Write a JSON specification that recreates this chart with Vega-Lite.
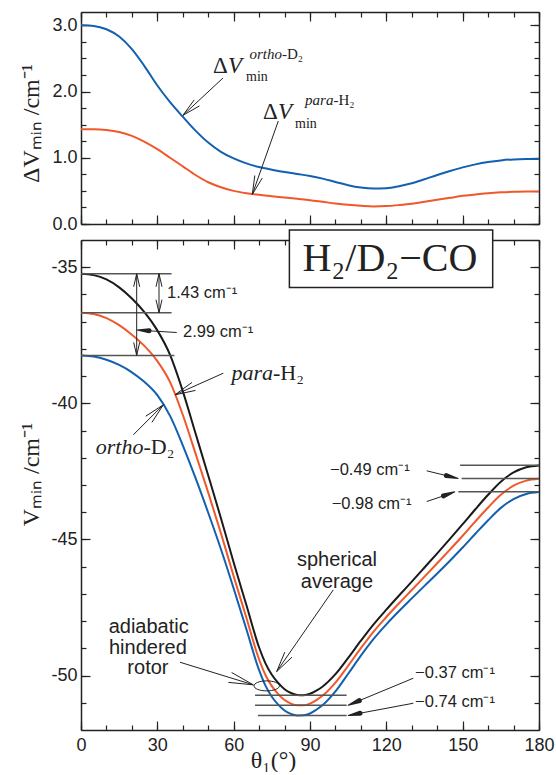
{
  "$schema": "https://vega.github.io/schema/vega-lite/v6.json",
  "background": "white",
  "padding": {"left": 19, "top": 11, "right": 5, "bottom": 0},
  "spacing": 16,
  "bounds": "flush",
  "config": {
    "view": {"stroke": null},
    "axis": {
      "grid": false, "domainColor": "#222", "domainWidth": 1.5, "tickColor": "#222", "tickWidth": 1.2,
      "labelFont": "Liberation Sans", "labelFontSize": 18, "labelColor": "#222", "labelFlush": false,
      "titleFont": "Liberation Serif", "titleFontSize": 24, "titleFontWeight": "normal", "titleColor": "#222"
    }
  },
  "datasets": {
    "dv": [
      {"x":0,"y":3.00,"s":"ortho"},{"x":5,"y":2.99,"s":"ortho"},{"x":10,"y":2.94,"s":"ortho"},{"x":15,"y":2.83,"s":"ortho"},{"x":20,"y":2.64,"s":"ortho"},{"x":25,"y":2.38,"s":"ortho"},{"x":30,"y":2.09,"s":"ortho"},{"x":35,"y":1.84,"s":"ortho"},{"x":40,"y":1.62,"s":"ortho"},{"x":45,"y":1.41,"s":"ortho"},{"x":50,"y":1.23,"s":"ortho"},{"x":55,"y":1.09,"s":"ortho"},{"x":60,"y":0.99,"s":"ortho"},{"x":65,"y":0.915,"s":"ortho"},{"x":70,"y":0.86,"s":"ortho"},{"x":75,"y":0.82,"s":"ortho"},{"x":80,"y":0.785,"s":"ortho"},{"x":85,"y":0.755,"s":"ortho"},{"x":90,"y":0.725,"s":"ortho"},{"x":95,"y":0.685,"s":"ortho"},{"x":100,"y":0.635,"s":"ortho"},{"x":105,"y":0.585,"s":"ortho"},{"x":110,"y":0.55,"s":"ortho"},{"x":115,"y":0.535,"s":"ortho"},{"x":120,"y":0.54,"s":"ortho"},{"x":125,"y":0.57,"s":"ortho"},{"x":130,"y":0.615,"s":"ortho"},{"x":135,"y":0.675,"s":"ortho"},{"x":140,"y":0.74,"s":"ortho"},{"x":145,"y":0.80,"s":"ortho"},{"x":150,"y":0.855,"s":"ortho"},{"x":155,"y":0.90,"s":"ortho"},{"x":160,"y":0.935,"s":"ortho"},{"x":165,"y":0.96,"s":"ortho"},{"x":170,"y":0.975,"s":"ortho"},{"x":175,"y":0.98,"s":"ortho"},{"x":180,"y":0.98,"s":"ortho"},
      {"x":0,"y":1.43,"s":"para"},{"x":5,"y":1.43,"s":"para"},{"x":10,"y":1.42,"s":"para"},{"x":15,"y":1.39,"s":"para"},{"x":20,"y":1.33,"s":"para"},{"x":25,"y":1.24,"s":"para"},{"x":30,"y":1.13,"s":"para"},{"x":35,"y":1.00,"s":"para"},{"x":40,"y":0.87,"s":"para"},{"x":45,"y":0.74,"s":"para"},{"x":50,"y":0.63,"s":"para"},{"x":55,"y":0.555,"s":"para"},{"x":60,"y":0.50,"s":"para"},{"x":65,"y":0.465,"s":"para"},{"x":70,"y":0.44,"s":"para"},{"x":75,"y":0.42,"s":"para"},{"x":80,"y":0.40,"s":"para"},{"x":85,"y":0.38,"s":"para"},{"x":90,"y":0.36,"s":"para"},{"x":95,"y":0.335,"s":"para"},{"x":100,"y":0.31,"s":"para"},{"x":105,"y":0.29,"s":"para"},{"x":110,"y":0.275,"s":"para"},{"x":115,"y":0.265,"s":"para"},{"x":120,"y":0.27,"s":"para"},{"x":125,"y":0.285,"s":"para"},{"x":130,"y":0.305,"s":"para"},{"x":135,"y":0.335,"s":"para"},{"x":140,"y":0.365,"s":"para"},{"x":145,"y":0.395,"s":"para"},{"x":150,"y":0.425,"s":"para"},{"x":155,"y":0.445,"s":"para"},{"x":160,"y":0.465,"s":"para"},{"x":165,"y":0.478,"s":"para"},{"x":170,"y":0.486,"s":"para"},{"x":175,"y":0.49,"s":"para"},{"x":180,"y":0.49,"s":"para"}
    ],
    "v": [
      {"x":0,"y":-35.24,"s":"sph"},{"x":5,"y":-35.29,"s":"sph"},{"x":10,"y":-35.45,"s":"sph"},{"x":15,"y":-35.74,"s":"sph"},{"x":20,"y":-36.15,"s":"sph"},{"x":25,"y":-36.66,"s":"sph"},{"x":30,"y":-37.32,"s":"sph"},{"x":35,"y":-38.22,"s":"sph"},{"x":40,"y":-39.55,"s":"sph"},{"x":45,"y":-41.10,"s":"sph"},{"x":50,"y":-42.65,"s":"sph"},{"x":55,"y":-44.22,"s":"sph"},{"x":60,"y":-45.85,"s":"sph"},{"x":65,"y":-47.41,"s":"sph"},{"x":70,"y":-48.97,"s":"sph"},{"x":72.5,"y":-49.55,"s":"sph"},{"x":75,"y":-49.97,"s":"sph"},{"x":77.5,"y":-50.27,"s":"sph"},{"x":80,"y":-50.50,"s":"sph"},{"x":82.5,"y":-50.64,"s":"sph"},{"x":85,"y":-50.71,"s":"sph"},{"x":87.5,"y":-50.72,"s":"sph"},{"x":90,"y":-50.67,"s":"sph"},{"x":92.5,"y":-50.55,"s":"sph"},{"x":95,"y":-50.40,"s":"sph"},{"x":100,"y":-49.95,"s":"sph"},{"x":105,"y":-49.35,"s":"sph"},{"x":110,"y":-48.72,"s":"sph"},{"x":115,"y":-48.12,"s":"sph"},{"x":120,"y":-47.58,"s":"sph"},{"x":125,"y":-47.06,"s":"sph"},{"x":130,"y":-46.55,"s":"sph"},{"x":135,"y":-46.03,"s":"sph"},{"x":140,"y":-45.51,"s":"sph"},{"x":145,"y":-44.98,"s":"sph"},{"x":150,"y":-44.44,"s":"sph"},{"x":155,"y":-43.89,"s":"sph"},{"x":160,"y":-43.36,"s":"sph"},{"x":165,"y":-42.88,"s":"sph"},{"x":170,"y":-42.54,"s":"sph"},{"x":175,"y":-42.35,"s":"sph"},{"x":180,"y":-42.28,"s":"sph"},
      {"x":0,"y":-36.67,"s":"para"},{"x":5,"y":-36.72,"s":"para"},{"x":10,"y":-36.87,"s":"para"},{"x":15,"y":-37.13,"s":"para"},{"x":20,"y":-37.48,"s":"para"},{"x":25,"y":-37.90,"s":"para"},{"x":30,"y":-38.45,"s":"para"},{"x":35,"y":-39.22,"s":"para"},{"x":40,"y":-40.42,"s":"para"},{"x":45,"y":-41.84,"s":"para"},{"x":50,"y":-43.28,"s":"para"},{"x":55,"y":-44.775,"s":"para"},{"x":60,"y":-46.35,"s":"para"},{"x":65,"y":-47.875,"s":"para"},{"x":70,"y":-49.41,"s":"para"},{"x":72.5,"y":-49.98,"s":"para"},{"x":75,"y":-50.39,"s":"para"},{"x":77.5,"y":-50.68,"s":"para"},{"x":80,"y":-50.90,"s":"para"},{"x":82.5,"y":-51.03,"s":"para"},{"x":85,"y":-51.09,"s":"para"},{"x":87.5,"y":-51.09,"s":"para"},{"x":90,"y":-51.03,"s":"para"},{"x":92.5,"y":-50.90,"s":"para"},{"x":95,"y":-50.735,"s":"para"},{"x":100,"y":-50.26,"s":"para"},{"x":105,"y":-49.64,"s":"para"},{"x":110,"y":-48.995,"s":"para"},{"x":115,"y":-48.385,"s":"para"},{"x":120,"y":-47.85,"s":"para"},{"x":125,"y":-47.345,"s":"para"},{"x":130,"y":-46.855,"s":"para"},{"x":135,"y":-46.365,"s":"para"},{"x":140,"y":-45.875,"s":"para"},{"x":145,"y":-45.375,"s":"para"},{"x":150,"y":-44.865,"s":"para"},{"x":155,"y":-44.335,"s":"para"},{"x":160,"y":-43.825,"s":"para"},{"x":165,"y":-43.358,"s":"para"},{"x":170,"y":-43.026,"s":"para"},{"x":175,"y":-42.84,"s":"para"},{"x":180,"y":-42.77,"s":"para"},
      {"x":0,"y":-38.24,"s":"ortho"},{"x":5,"y":-38.28,"s":"ortho"},{"x":10,"y":-38.40,"s":"ortho"},{"x":15,"y":-38.59,"s":"ortho"},{"x":20,"y":-38.86,"s":"ortho"},{"x":25,"y":-39.22,"s":"ortho"},{"x":30,"y":-39.70,"s":"ortho"},{"x":35,"y":-40.46,"s":"ortho"},{"x":40,"y":-41.54,"s":"ortho"},{"x":45,"y":-42.74,"s":"ortho"},{"x":50,"y":-44.02,"s":"ortho"},{"x":55,"y":-45.36,"s":"ortho"},{"x":60,"y":-46.80,"s":"ortho"},{"x":65,"y":-48.30,"s":"ortho"},{"x":70,"y":-49.80,"s":"ortho"},{"x":72.5,"y":-50.37,"s":"ortho"},{"x":75,"y":-50.78,"s":"ortho"},{"x":77.5,"y":-51.07,"s":"ortho"},{"x":80,"y":-51.285,"s":"ortho"},{"x":82.5,"y":-51.41,"s":"ortho"},{"x":85,"y":-51.465,"s":"ortho"},{"x":87.5,"y":-51.46,"s":"ortho"},{"x":90,"y":-51.395,"s":"ortho"},{"x":92.5,"y":-51.255,"s":"ortho"},{"x":95,"y":-51.085,"s":"ortho"},{"x":100,"y":-50.585,"s":"ortho"},{"x":105,"y":-49.935,"s":"ortho"},{"x":110,"y":-49.27,"s":"ortho"},{"x":115,"y":-48.655,"s":"ortho"},{"x":120,"y":-48.12,"s":"ortho"},{"x":125,"y":-47.63,"s":"ortho"},{"x":130,"y":-47.165,"s":"ortho"},{"x":135,"y":-46.705,"s":"ortho"},{"x":140,"y":-46.25,"s":"ortho"},{"x":145,"y":-45.78,"s":"ortho"},{"x":150,"y":-45.295,"s":"ortho"},{"x":155,"y":-44.79,"s":"ortho"},{"x":160,"y":-44.295,"s":"ortho"},{"x":165,"y":-43.84,"s":"ortho"},{"x":170,"y":-43.515,"s":"ortho"},{"x":175,"y":-43.33,"s":"ortho"},{"x":180,"y":-43.26,"s":"ortho"}
    ],
    "tseg": [
      {"x":55.81,"y":2.204,"x2":40.05,"y2":1.64},{"x":40.05,"y":1.64,"x2":46.57,"y2":1.783},{"x":40.05,"y":1.64,"x2":44.49,"y2":1.873},
      {"x":77.55,"y":1.555,"x2":67.33,"y2":0.448},{"x":67.33,"y":0.448,"x2":71.22,"y2":0.693},{"x":67.33,"y":0.448,"x2":68.31,"y2":0.732}
    ],
    "tDelta": [{"x":51.9,"y":2.28,"t":"Δ"},{"x":71.5,"y":1.585,"t":"Δ"}],
    "tV": [{"x":57.8,"y":2.28,"t":"V"},{"x":77.4,"y":1.585,"t":"V"}],
    "tmin": [{"x":64.85,"y":2.16,"t":"min"},{"x":84.1,"y":1.449,"t":"min"}],
    "tsupI": [{"x":79.0,"y":2.49,"t":"ortho"},{"x":99.2,"y":1.796,"t":"para"}],
    "tsupR": [{"x":79.0,"y":2.49,"t":"-D₂"},{"x":99.2,"y":1.796,"t":"-H₂"}],
    "bref": [
      {"x":0,"y":-35.24,"x2":35.6,"y2":-35.24},{"x":0,"y":-36.67,"x2":35.6,"y2":-36.67},{"x":0,"y":-38.24,"x2":36.7,"y2":-38.24},
      {"x":68.4,"y":-50.72,"x2":104.4,"y2":-50.72},{"x":68.4,"y":-51.09,"x2":104.4,"y2":-51.09},{"x":69.5,"y":-51.465,"x2":104.4,"y2":-51.465},
      {"x":149.0,"y":-42.27,"x2":180,"y2":-42.27},{"x":149.6,"y":-42.76,"x2":180,"y2":-42.76},{"x":148.3,"y":-43.25,"x2":180,"y2":-43.25}
    ],
    "bseg": [
      {"x":30.66,"y":-35.24,"x2":30.66,"y2":-36.67},{"x":30.66,"y":-35.24,"x2":29.48,"y2":-35.718},{"x":30.66,"y":-35.24,"x2":31.84,"y2":-35.718},{"x":30.66,"y":-36.67,"x2":29.48,"y2":-36.192},{"x":30.66,"y":-36.67,"x2":31.84,"y2":-36.192},
      {"x":21.89,"y":-35.24,"x2":21.89,"y2":-38.24},{"x":21.89,"y":-35.24,"x2":20.71,"y2":-35.718},{"x":21.89,"y":-35.24,"x2":23.07,"y2":-35.718},{"x":21.89,"y":-38.24,"x2":20.71,"y2":-37.762},{"x":21.89,"y":-38.24,"x2":23.07,"y2":-37.762},
      {"x":37.61,"y":-37.398,"x2":26.73,"y2":-37.336},
      {"x":55.93,"y":-38.893,"x2":36.94,"y2":-39.687},{"x":36.94,"y":-39.687,"x2":45.0,"y2":-39.525},{"x":36.94,"y":-39.687,"x2":43.63,"y2":-39.231},
      {"x":20.55,"y":-41.157,"x2":32.35,"y2":-40.054},{"x":32.35,"y":-40.054,"x2":25.43,"y2":-40.473},{"x":32.35,"y":-40.054,"x2":27.87,"y2":-40.701},
      {"x":99.16,"y":-46.851,"x2":76.91,"y2":-49.852},{"x":76.91,"y":-49.852,"x2":82.93,"y2":-49.323},{"x":76.91,"y":-49.852,"x2":80.10,"y2":-49.140},
      {"x":38.91,"y":-49.511,"x2":67.72,"y2":-50.341},{"x":67.72,"y":-50.341,"x2":59.19,"y2":-49.887},{"x":67.72,"y":-50.341,"x2":57.93,"y2":-50.251},
      {"x":135.87,"y":-42.479,"x2":143.6,"y2":-42.655},
      {"x":135.87,"y":-43.607,"x2":142.47,"y2":-43.401},
      {"x":130.6,"y":-50.098,"x2":109.38,"y2":-50.921},
      {"x":130.6,"y":-51.017,"x2":109.65,"y2":-51.384}
    ],
    "heads": [
      {"id":"a","part":"base","x":26.73,"y":-37.336},{"id":"a","part":"tip","x":22.01,"y":-37.306},
      {"id":"b","part":"base","x":143.6,"y":-42.655},{"id":"b","part":"tip","x":148.2,"y":-42.76},
      {"id":"c","part":"base","x":142.47,"y":-43.401},{"id":"c","part":"tip","x":146.9,"y":-43.25},
      {"id":"d","part":"base","x":109.38,"y":-50.921},{"id":"d","part":"tip","x":105.0,"y":-51.09},
      {"id":"e","part":"base","x":109.65,"y":-51.384},{"id":"e","part":"tip","x":105.0,"y":-51.465}
    ],
    "box": [{"x":81.9,"x2":161.8,"y":-33.633,"y2":-35.745}],
    "boxt": [{"x":121.4,"y":-34.716,"t":"H₂/D₂−CO"}],
    "ell": [{"x":72.98,"y":-50.379}],
    "cmlab": [
      {"x":33.8,"y":-35.954,"t":"1.43 cm⁻¹"},{"x":40.1,"y":-37.38,"t":"2.99 cm⁻¹"},
      {"x":97.86,"y":-42.44,"t":"−0.49 cm⁻¹"},{"x":98.5,"y":-43.68,"t":"−0.98 cm⁻¹"},
      {"x":131.3,"y":-49.91,"t":"−0.37 cm⁻¹"},{"x":131.3,"y":-50.955,"t":"−0.74 cm⁻¹"}
    ],
    "words": [
      {"x":100.6,"y":-45.74,"t":"spherical"},{"x":100.6,"y":-46.55,"t":"average"},
      {"x":26.6,"y":-48.2,"t":"adiabatic"},{"x":26.3,"y":-48.97,"t":"hindered"},{"x":26.3,"y":-49.73,"t":"rotor"}
    ],
    "molI": [{"x":75.46,"y":-39.125,"t":"para"},{"x":24.56,"y":-41.869,"t":"ortho"}],
    "molR": [{"x":75.46,"y":-39.125,"t":"-H₂"},{"x":24.56,"y":-41.869,"t":"-D₂"}]
  },
  "vconcat": [
    {
      "width": 458, "height": 212,
      "resolve": {"axis": {"x": "independent", "y": "independent"}},
      "layer": [
        {
          "data": {"name": "dv"},
          "mark": {"type": "line", "interpolate": "monotone", "strokeWidth": 2},
          "encoding": {
            "x": {"field": "x", "type": "quantitative", "scale": {"domain": [0, 180], "nice": false, "zero": false},
                  "axis": {"orient": "bottom", "values": [0,30,60,90,120,150,180], "tickSize": -9, "labels": false, "title": null}},
            "y": {"field": "y", "type": "quantitative", "scale": {"domain": [0, 3.2], "nice": false, "zero": false},
                  "axis": {"orient": "left", "values": [0,1,2,3], "tickSize": -9, "format": ".1f", "labelPadding": 13,
                           "title": "ΔVₘᵢₙ /cm⁻¹", "titleX": -43, "titleY": 111, "titleBaseline": "alphabetic", "titleAngle": 270, "titleAlign": "center"}},
            "color": {"field": "s", "type": "nominal", "scale": {"domain": ["sph","para","ortho"], "range": ["#1a1a1a","#f0582a","#1261b0"]}, "legend": null}
          }
        },
        {
          "data": {"name": "tseg"},
          "mark": {"type": "rule", "color": "#222", "strokeWidth": 1},
          "encoding": {
            "x": {"field": "x", "type": "quantitative", "scale": {"domain": [0, 180], "nice": false, "zero": false},
                  "axis": {"orient": "bottom", "values": [0,10,20,30,40,50,60,70,80,90,100,110,120,130,140,150,160,170,180], "tickSize": -5, "labels": false, "domain": false, "title": null}},
            "y": {"field": "y", "type": "quantitative", "scale": {"domain": [0, 3.2], "nice": false, "zero": false},
                  "axis": {"orient": "left", "values": [0,0.25,0.5,0.75,1,1.25,1.5,1.75,2,2.25,2.5,2.75,3], "tickSize": -5, "labels": false, "domain": false, "title": null}},
            "x2": {"field": "x2"}, "y2": {"field": "y2"}
          }
        },
        {
          "data": {"name": "tDelta"},
          "mark": {"type": "text", "font": "Liberation Serif", "fontSize": 23, "align": "left", "baseline": "alphabetic", "color": "#222"},
          "encoding": {
            "x": {"field": "x", "type": "quantitative", "scale": {"domain": [0, 180], "nice": false, "zero": false},
                  "axis": {"orient": "top", "values": [0,30,60,90,120,150,180], "tickSize": -9, "labels": false, "title": null}},
            "y": {"field": "y", "type": "quantitative", "scale": {"domain": [0, 3.2], "nice": false, "zero": false},
                  "axis": {"orient": "right", "values": [0,1,2,3], "tickSize": -9, "labels": false, "title": null}},
            "text": {"field": "t"}
          }
        },
        {
          "data": {"name": "tV"},
          "mark": {"type": "text", "font": "Liberation Serif", "fontStyle": "italic", "fontSize": 23, "align": "left", "baseline": "alphabetic", "color": "#222"},
          "encoding": {
            "x": {"field": "x", "type": "quantitative", "scale": {"domain": [0, 180], "nice": false, "zero": false},
                  "axis": {"orient": "top", "values": [0,10,20,30,40,50,60,70,80,90,100,110,120,130,140,150,160,170,180], "tickSize": -5, "labels": false, "domain": false, "title": null}},
            "y": {"field": "y", "type": "quantitative", "scale": {"domain": [0, 3.2], "nice": false, "zero": false},
                  "axis": {"orient": "right", "values": [0,0.25,0.5,0.75,1,1.25,1.5,1.75,2,2.25,2.5,2.75,3], "tickSize": -5, "labels": false, "domain": false, "title": null}},
            "text": {"field": "t"}
          }
        },
        {
          "data": {"name": "tmin"},
          "mark": {"type": "text", "font": "Liberation Serif", "fontSize": 14, "align": "left", "baseline": "alphabetic", "color": "#222"},
          "encoding": {
            "x": {"field": "x", "type": "quantitative", "scale": {"domain": [0, 180]}, "axis": null},
            "y": {"field": "y", "type": "quantitative", "scale": {"domain": [0, 3.2]}, "axis": null},
            "text": {"field": "t"}
          }
        },
        {
          "data": {"name": "tsupI"},
          "mark": {"type": "text", "font": "Liberation Serif", "fontStyle": "italic", "fontSize": 15, "align": "right", "baseline": "alphabetic", "color": "#222"},
          "encoding": {
            "x": {"field": "x", "type": "quantitative", "scale": {"domain": [0, 180]}, "axis": null},
            "y": {"field": "y", "type": "quantitative", "scale": {"domain": [0, 3.2]}, "axis": null},
            "text": {"field": "t"}
          }
        },
        {
          "data": {"name": "tsupR"},
          "mark": {"type": "text", "font": "Liberation Serif", "fontSize": 15, "align": "left", "baseline": "alphabetic", "color": "#222"},
          "encoding": {
            "x": {"field": "x", "type": "quantitative", "scale": {"domain": [0, 180]}, "axis": null},
            "y": {"field": "y", "type": "quantitative", "scale": {"domain": [0, 3.2]}, "axis": null},
            "text": {"field": "t"}
          }
        }
      ]
    },
    {
      "width": 458, "height": 490,
      "resolve": {"axis": {"x": "independent", "y": "independent"}},
      "layer": [
        {
          "data": {"name": "v"},
          "mark": {"type": "line", "interpolate": "monotone", "strokeWidth": 2},
          "encoding": {
            "x": {"field": "x", "type": "quantitative", "scale": {"domain": [0, 180], "nice": false, "zero": false},
                  "axis": {"orient": "bottom", "values": [0,30,60,90,120,150,180], "tickSize": -9, "labelPadding": 15,
                           "title": "θ₁(°)", "titleX": 192, "titleY": 37, "titleBaseline": "alphabetic", "titleAngle": 0, "titleAlign": "center"}},
            "y": {"field": "y", "type": "quantitative", "scale": {"domain": [-52, -34], "nice": false, "zero": false},
                  "axis": {"orient": "left", "values": [-50,-45,-40,-35], "tickSize": -9, "labelPadding": 13, "labelExpr": "replace(datum.label, '−', '-')",
                           "title": "Vₘᵢₙ /cm⁻¹", "titleX": -43, "titleY": 234, "titleBaseline": "alphabetic", "titleAngle": 270, "titleAlign": "center"}},
            "color": {"field": "s", "type": "nominal", "scale": {"domain": ["sph","para","ortho"], "range": ["#1a1a1a","#f0582a","#1261b0"]}, "legend": null}
          }
        },
        {
          "data": {"name": "bref"},
          "mark": {"type": "rule", "color": "#555", "strokeWidth": 1.5},
          "encoding": {
            "x": {"field": "x", "type": "quantitative", "scale": {"domain": [0, 180], "nice": false, "zero": false},
                  "axis": {"orient": "bottom", "values": [0,10,20,30,40,50,60,70,80,90,100,110,120,130,140,150,160,170,180], "tickSize": -5, "labels": false, "domain": false, "title": null}},
            "y": {"field": "y", "type": "quantitative", "scale": {"domain": [-52, -34], "nice": false, "zero": false},
                  "axis": {"orient": "left", "values": [-51,-50,-49,-48,-47,-46,-45,-44,-43,-42,-41,-40,-39,-38,-37,-36,-35], "tickSize": -5, "labels": false, "domain": false, "title": null}},
            "x2": {"field": "x2"}, "y2": {"field": "y2"}
          }
        },
        {
          "data": {"name": "bseg"},
          "mark": {"type": "rule", "color": "#222", "strokeWidth": 1},
          "encoding": {
            "x": {"field": "x", "type": "quantitative", "scale": {"domain": [0, 180], "nice": false, "zero": false},
                  "axis": {"orient": "top", "values": [0,30,60,90,120,150,180], "tickSize": -9, "labels": false, "title": null}},
            "y": {"field": "y", "type": "quantitative", "scale": {"domain": [-52, -34], "nice": false, "zero": false},
                  "axis": {"orient": "right", "values": [-50,-45,-40,-35], "tickSize": -9, "labels": false, "title": null}},
            "x2": {"field": "x2"}, "y2": {"field": "y2"}
          }
        },
        {
          "data": {"name": "box"},
          "mark": {"type": "rect", "fill": "white", "stroke": "#222", "strokeWidth": 1.5},
          "encoding": {
            "x": {"field": "x", "type": "quantitative", "scale": {"domain": [0, 180], "nice": false, "zero": false},
                  "axis": {"orient": "top", "values": [0,10,20,30,40,50,60,70,80,90,100,110,120,130,140,150,160,170,180], "tickSize": -5, "labels": false, "domain": false, "title": null}},
            "y": {"field": "y", "type": "quantitative", "scale": {"domain": [-52, -34], "nice": false, "zero": false},
                  "axis": {"orient": "right", "values": [-51,-50,-49,-48,-47,-46,-45,-44,-43,-42,-41,-40,-39,-38,-37,-36,-35], "tickSize": -5, "labels": false, "domain": false, "title": null}},
            "x2": {"field": "x2"}, "y2": {"field": "y2"}
          }
        },
        {
          "data": {"name": "heads"},
          "mark": {"type": "trail", "color": "#222"},
          "encoding": {
            "x": {"field": "x", "type": "quantitative", "scale": {"domain": [0, 180]}, "axis": null},
            "y": {"field": "y", "type": "quantitative", "scale": {"domain": [-52, -34]}, "axis": null},
            "detail": {"field": "id"},
            "size": {"field": "part", "type": "ordinal", "scale": {"type": "ordinal", "domain": ["base", "tip"], "range": [5, 0]}, "legend": null}
          }
        },
        {
          "data": {"name": "ell"},
          "mark": {"type": "point", "shape": "M-2.54,0A2.54,1,0,1,0,2.54,0A2.54,1,0,1,0,-2.54,0Z", "size": 100, "filled": false, "stroke": "#222", "strokeWidth": 1, "opacity": 1},
          "encoding": {
            "x": {"field": "x", "type": "quantitative", "scale": {"domain": [0, 180]}, "axis": null},
            "y": {"field": "y", "type": "quantitative", "scale": {"domain": [-52, -34]}, "axis": null}
          }
        },
        {
          "data": {"name": "boxt"},
          "mark": {"type": "text", "font": "Liberation Serif", "fontSize": 40, "align": "center", "baseline": "middle", "color": "#222"},
          "encoding": {
            "x": {"field": "x", "type": "quantitative", "scale": {"domain": [0, 180]}, "axis": null},
            "y": {"field": "y", "type": "quantitative", "scale": {"domain": [-52, -34]}, "axis": null},
            "text": {"field": "t"}
          }
        },
        {
          "data": {"name": "cmlab"},
          "mark": {"type": "text", "font": "Liberation Sans", "fontSize": 16.5, "align": "left", "baseline": "middle", "color": "#222"},
          "encoding": {
            "x": {"field": "x", "type": "quantitative", "scale": {"domain": [0, 180]}, "axis": null},
            "y": {"field": "y", "type": "quantitative", "scale": {"domain": [-52, -34]}, "axis": null},
            "text": {"field": "t"}
          }
        },
        {
          "data": {"name": "words"},
          "mark": {"type": "text", "font": "Liberation Sans", "fontSize": 20, "align": "center", "baseline": "middle", "color": "#222"},
          "encoding": {
            "x": {"field": "x", "type": "quantitative", "scale": {"domain": [0, 180]}, "axis": null},
            "y": {"field": "y", "type": "quantitative", "scale": {"domain": [-52, -34]}, "axis": null},
            "text": {"field": "t"}
          }
        },
        {
          "data": {"name": "molI"},
          "mark": {"type": "text", "font": "Liberation Serif", "fontStyle": "italic", "fontSize": 22, "align": "right", "baseline": "alphabetic", "color": "#222"},
          "encoding": {
            "x": {"field": "x", "type": "quantitative", "scale": {"domain": [0, 180]}, "axis": null},
            "y": {"field": "y", "type": "quantitative", "scale": {"domain": [-52, -34]}, "axis": null},
            "text": {"field": "t"}
          }
        },
        {
          "data": {"name": "molR"},
          "mark": {"type": "text", "font": "Liberation Serif", "fontSize": 22, "align": "left", "baseline": "alphabetic", "color": "#222"},
          "encoding": {
            "x": {"field": "x", "type": "quantitative", "scale": {"domain": [0, 180]}, "axis": null},
            "y": {"field": "y", "type": "quantitative", "scale": {"domain": [-52, -34]}, "axis": null},
            "text": {"field": "t"}
          }
        }
      ]
    }
  ]
}
